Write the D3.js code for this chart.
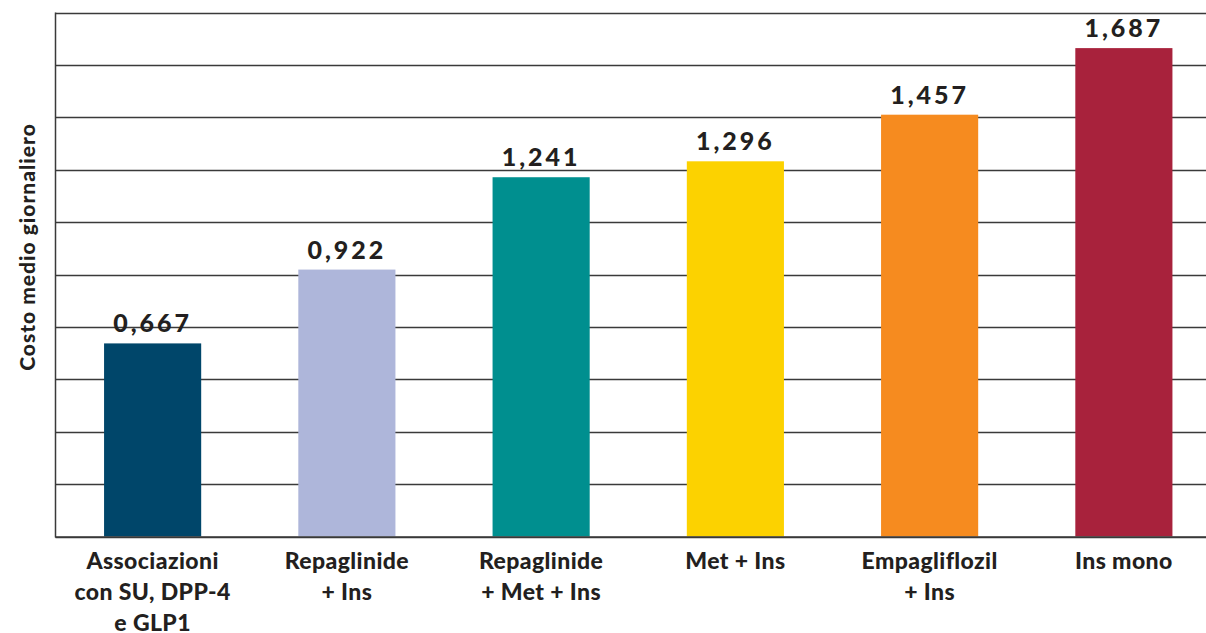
<!DOCTYPE html>
<html>
<head>
<meta charset="utf-8">
<script src="https://cdn.jsdelivr.net/npm/d3@7"></script>
<style>
  body { margin: 0; background: #fff; }
  svg { display: block; font-family: "Lato", "Open Sans", sans-serif; }
</style>
</head>
<body>
<svg></svg>
<script>
const width = 1206
const height = 633
const marginTop = 12.5
const marginLeft = 55.5
const plotBottom = 536.5
const plotRight = 1221 // the plot runs past the right edge of the picture

// data
const categories = [
  ["Associazioni", "con SU, DPP-4", "e GLP1"],
  ["Repaglinide", "+ Ins"],
  ["Repaglinide", "+ Met + Ins"],
  ["Met + Ins"],
  ["Empagliflozil", "+ Ins"],
  ["Ins mono"]
]
const values = [0.667, 0.922, 1.241, 1.296, 1.457, 1.687]
const valueLabels = ["0,667", "0,922", "1,241", "1,296", "1,457", "1,687"]
const barColors = ["#00466a", "#aeb6da", "#008f8f", "#fcd200", "#f68b1f", "#a8223c"]
const yMax = 1.81
const gridTicks = [0, 0.181, 0.362, 0.543, 0.724, 0.905, 1.086, 1.267, 1.448, 1.629, 1.81]

const svg = d3.select("svg")
    .attr("width", width)
    .attr("height", height)

const x = d3.scaleBand()
    .domain(d3.range(categories.length))
    .range([marginLeft, plotRight])
    .paddingInner(0.5)
    .paddingOuter(0.25)

const y = d3.scaleLinear()
    .domain([0, yMax])
    .range([plotBottom, marginTop])

// grid lines
svg.append("g")
    .selectAll("line")
    .data(gridTicks)
    .join("line")
    .attr("x1", marginLeft)
    .attr("x2", width)
    .attr("y1", d => Math.round(y(d)) + 0.5)
    .attr("y2", d => Math.round(y(d)) + 0.5)
    .attr("stroke", "#3a3a3a")
    .attr("stroke-width", 1.3)

// left axis line
svg.append("line")
    .attr("x1", marginLeft).attr("x2", marginLeft)
    .attr("y1", marginTop).attr("y2", plotBottom + 1)
    .attr("stroke", "#3a3a3a")
    .attr("stroke-width", 1.5)

// bars
svg.append("g")
    .selectAll("rect")
    .data(values)
    .join("rect")
    .attr("x", (d, i) => x(i))
    .attr("y", d => y(d))
    .attr("width", x.bandwidth())
    .attr("height", d => y(0) - y(d))
    .attr("fill", (d, i) => barColors[i])

// baseline on top of the bars
svg.append("line")
    .attr("x1", marginLeft).attr("x2", width)
    .attr("y1", plotBottom + 0.5).attr("y2", plotBottom + 0.5)
    .attr("stroke", "#3a3a3a")
    .attr("stroke-width", 1.5)

// value labels
svg.append("g")
    .selectAll("text")
    .data(values)
    .join("text")
    .attr("x", (d, i) => x(i) + x.bandwidth() / 2)
    .attr("y", d => y(d) - 11)
    .attr("text-anchor", "middle")
    .attr("font-size", "25px")
    .attr("font-weight", "900")
    .attr("letter-spacing", "3px")
    .attr("fill", "#231f20")
    .text((d, i) => valueLabels[i])

// category labels
const catLabels = svg.append("g")
    .selectAll("text")
    .data(categories)
    .join("text")
    .attr("text-anchor", "middle")
    .attr("font-size", "23px")
    .attr("font-weight", "900")
    .attr("letter-spacing", "0.4px")
    .attr("fill", "#231f20")

catLabels.selectAll("tspan")
    .data((d, i) => d.map(line => ({line, i})))
    .join("tspan")
    .attr("x", d => x(d.i) + x.bandwidth() / 2)
    .attr("y", (d, j) => 569 + j * 31)
    .text(d => d.line)

// y title
svg.append("text")
    .attr("transform", `translate(35, 247) rotate(-90)`)
    .attr("text-anchor", "middle")
    .attr("font-size", "21px")
    .attr("font-weight", "900")
    .attr("letter-spacing", "1px")
    .attr("fill", "#231f20")
    .text("Costo medio giornaliero")
</script>
</body>
</html>
